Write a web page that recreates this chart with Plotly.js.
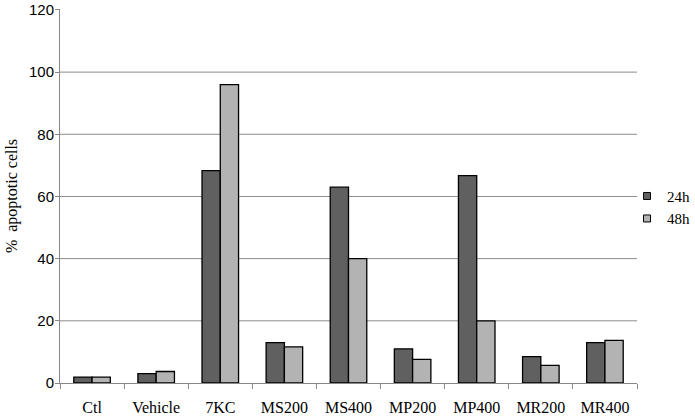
<!DOCTYPE html>
<html>
<head>
<meta charset="utf-8">
<script src="https://cdn.plot.ly/plotly-3.0.1.min.js"></script>
<style>html,body{margin:0;padding:0;background:#fff;}#chart{width:695px;height:417px;}</style>
</head>
<body>
<div id="chart"></div>
<script>
const categories = ["Ctl", "Vehicle", "7KC", "MS200", "MS400", "MP200", "MP400", "MR200", "MR400"];
const values24h = [1.9, 3.0, 68.3, 13.0, 63.0, 11.0, 66.7, 8.5, 13.0];
const values48h = [1.9, 3.7, 96.0, 11.6, 40.0, 7.6, 20.0, 5.7, 13.7];
const seriesNames = ["24h", "48h"];
const seriesColors = ["#606060", "#b3b3b3"];
const yTicks = [0, 20, 40, 60, 80, 100, 120];
const yMax = 120;

const traces = [
  {type: "bar", name: seriesNames[0], x: categories, y: values24h, showlegend: false,
   marker: {color: seriesColors[0], line: {color: "#000", width: 1.3}}},
  {type: "bar", name: seriesNames[1], x: categories, y: values48h, showlegend: false,
   marker: {color: seriesColors[1], line: {color: "#000", width: 1.3}}},
  {type: "scatter", mode: "markers", name: seriesNames[0], x: [null], y: [null],
   marker: {symbol: "square", size: 7, color: seriesColors[0], line: {color: "#000", width: 1}}},
  {type: "scatter", mode: "markers", name: seriesNames[1], x: [null], y: [null],
   marker: {symbol: "square", size: 7, color: seriesColors[1], line: {color: "#000", width: 1}}}
];

const gridShapes = yTicks.filter(v => v > 0 && v < yMax).map(v => ({
  type: "line", xref: "paper", yref: "y", x0: 0, x1: 1, y0: v, y1: v,
  line: {color: "#8c8c8c", width: 1}, layer: "below"
}));

const layout = {
  width: 695, height: 417,
  margin: {l: 60, r: 58, t: 9, b: 34, autoexpand: false},
  paper_bgcolor: "#fff", plot_bgcolor: "#fff",
  barmode: "group", bargap: 0.43, bargroupgap: 0,
  showlegend: true,
  shapes: gridShapes,
  legend: {x: 0.9827, xanchor: "left", y: 0.47, yanchor: "middle",
           bgcolor: "rgba(0,0,0,0)",
           font: {family: "Liberation Serif", size: 15, color: "#000"},
           itemwidth: 30, tracegroupgap: 4},
  xaxis: {type: "category", tickson: "boundaries", ticks: "outside", ticklen: 5,
          tickcolor: "#888", showline: true, linecolor: "#888", linewidth: 1,
          ticklabelstandoff: 10, automargin: false,
          showgrid: false, tickfont: {family: "Liberation Serif", size: 16, color: "#000"}},
  yaxis: {range: [0, yMax + 0.3], tickvals: yTicks, ticks: "outside", ticklen: 4,
          tickcolor: "#888", showline: true, linecolor: "#888", linewidth: 1,
          showgrid: false, zeroline: false, ticklabelstandoff: -2, automargin: false,
          tickfont: {family: "Liberation Sans", size: 15, color: "#000"},
          title: {text: "%  apoptotic cells", standoff: 7,
                  font: {family: "Liberation Serif", size: 16, color: "#000"}}}
};

Plotly.newPlot("chart", traces, layout, {displayModeBar: false, staticPlot: true});
</script>
</body>
</html>
